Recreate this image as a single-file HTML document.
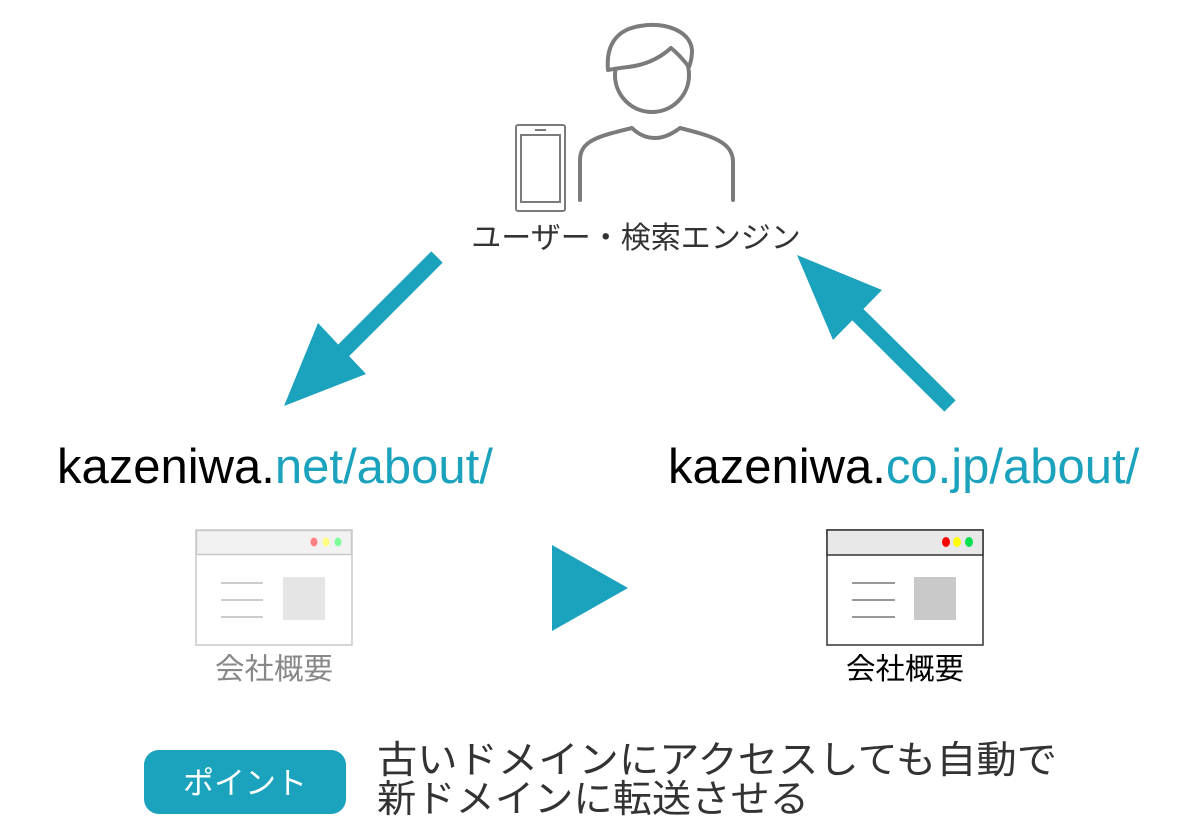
<!DOCTYPE html>
<html><head><meta charset="utf-8"><style>
body{margin:0;background:#fff;}
svg{display:block;}
</style></head><body>
<svg width="1200" height="828" viewBox="0 0 1200 828" xmlns="http://www.w3.org/2000/svg">
<!-- person -->
<g fill="none" stroke="#7b7b7b" stroke-width="4" stroke-linecap="round" stroke-linejoin="round">
<circle cx="652" cy="75" r="37"/>
<path d="M608 70 C606 48 614 30 640 26 C664 22 690 30 692 50 C692 58 691 62 689 67 C682 58 676 52 671 48 C660 58 645 65 628 67 C620 68 613 69 608 70 Z" fill="#fff"/>
<path d="M580 200 V160 C580 140 600 136 632 128 C640 136 648 138 655 138 C664 138 672 134 680 128 C712 136 733 142 733 162 V200"/>
</g>
<rect x="516" y="125" width="49" height="86" rx="2" fill="none" stroke="#7b7b7b" stroke-width="2"/>
<rect x="521" y="135" width="39" height="67" fill="none" stroke="#7b7b7b" stroke-width="2"/>
<line x1="535" y1="130" x2="546" y2="130" stroke="#7b7b7b" stroke-width="2"/>
<text x="636" y="248" font-family="'Liberation Sans','Noto Sans CJK JP',sans-serif" font-size="30" fill="#333" text-anchor="middle">ユーザー・検索エンジン</text>
<!-- arrows -->
<line x1="437" y1="257" x2="335" y2="359" stroke="#1ba2bd" stroke-width="16"/>
<polygon points="284,406 318,323 366,374" fill="#1ba2bd"/>
<line x1="950" y1="406" x2="840" y2="297" stroke="#1ba2bd" stroke-width="16"/>
<polygon points="797,255 882,290 833,340" fill="#1ba2bd"/>
<polygon points="552,545 552,631 628,588" fill="#1ba2bd"/>
<!-- urls -->
<g font-family="'Liberation Sans',sans-serif" font-size="49">
<text x="57" y="483" fill="#000">kazeniwa.<tspan fill="#1ba2bd">net/about/</tspan></text>
<text x="668" y="483" fill="#000">kazeniwa.<tspan fill="#1ba2bd">co.jp/about/</tspan></text>
</g>
<!-- left browser -->
<rect x="196" y="530" width="156" height="115" fill="#fff" stroke="#c8c8c8" stroke-width="1.5"/>
<rect x="196.5" y="530.5" width="155" height="24" fill="#f2f2f2" stroke="#c8c8c8" stroke-width="1.5"/>
<ellipse cx="314" cy="542" rx="3.5" ry="4.5" fill="#ff8080"/>
<ellipse cx="326" cy="542" rx="3.5" ry="4.5" fill="#ffff80"/>
<ellipse cx="338" cy="542" rx="3.5" ry="4.5" fill="#80ff9f"/>
<g stroke="#cccccc" stroke-width="2"><line x1="221" y1="583" x2="263" y2="583"/><line x1="221" y1="600" x2="263" y2="600"/><line x1="221" y1="617" x2="263" y2="617"/></g>
<rect x="283" y="577" width="42" height="43" fill="#e5e5e5"/>
<!-- right browser -->
<rect x="827" y="530" width="156" height="115" fill="#fff" stroke="#333" stroke-width="1.5"/>
<rect x="827" y="530" width="156" height="25" fill="#e8e8e8" stroke="#333" stroke-width="1.5"/>
<ellipse cx="946" cy="542" rx="4" ry="5" fill="#ff0000"/>
<ellipse cx="957" cy="542" rx="4" ry="5" fill="#ffff00"/>
<ellipse cx="969" cy="542" rx="4" ry="5" fill="#00e050"/>
<g stroke="#999" stroke-width="2"><line x1="852" y1="583" x2="895" y2="583"/><line x1="852" y1="600" x2="895" y2="600"/><line x1="852" y1="617" x2="895" y2="617"/></g>
<rect x="914" y="577" width="42" height="43" fill="#c9c9c9"/>
<g font-family="'Liberation Sans','Noto Sans CJK JP',sans-serif" font-size="29.5">
<text x="274" y="679" fill="#888" text-anchor="middle">会社概要</text>
<text x="905" y="679" fill="#000" text-anchor="middle">会社概要</text>
</g>
<!-- point -->
<rect x="144" y="750" width="202" height="64" rx="15" fill="#1ba2bd"/>
<text x="245" y="794" font-family="'Liberation Sans','Noto Sans CJK JP',sans-serif" font-size="31" fill="#fff" text-anchor="middle">ポイント</text>
<g font-family="'Liberation Sans','Noto Sans CJK JP',sans-serif" font-size="38" fill="#333">
<text x="377" y="773" textLength="680" lengthAdjust="spacingAndGlyphs">古いドメインにアクセスしても自動で</text>
<text x="377" y="812" textLength="432" lengthAdjust="spacingAndGlyphs">新ドメインに転送させる</text>
</g>
</svg>
</body></html>
